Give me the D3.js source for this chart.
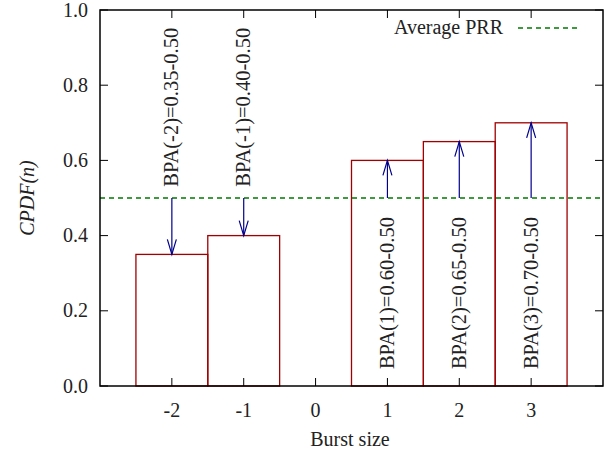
<!DOCTYPE html>
<html>
<head>
<meta charset="utf-8">
<script src="https://cdn.jsdelivr.net/npm/d3@7"></script>
<style>
    body { margin: 0; background: #fff; }
    svg { display: block; }
</style>
</head>
<body>
<svg id="chart" width="613" height="454"></svg>
<script>
// burst sizes and their CPDF values (bars only where there is data)
var burst_sizes = [-2, -1, 1, 2, 3];
var cpdf_values = [0.35, 0.40, 0.60, 0.65, 0.70];
var bpa_labels = ['BPA(-2)=0.35-0.50', 'BPA(-1)=0.40-0.50', 'BPA(1)=0.60-0.50',
                  'BPA(2)=0.65-0.50', 'BPA(3)=0.70-0.50'];
var average_prr = 0.5;
var x_ticks = [-2, -1, 0, 1, 2, 3];
var y_ticks = [0, 0.2, 0.4, 0.6, 0.8, 1.0];

var plot_left = 100, plot_right = 603, plot_top = 10, plot_bottom = 386;
var font = 'Liberation Serif';
var fs = 20;
var svg = d3.select('#chart');

var x = d3.scaleLinear().domain([-3, 4]).range([plot_left, plot_right]);
var y = d3.scaleLinear().domain([0, 1]).range([plot_bottom, plot_top]);

var dark_red = '#a00000';
var dark_blue = '#00008b';
var green = '#007800';

function label(sel) {
    return sel.attr('font-family', font).attr('font-size', fs).attr('fill', '#222');
}

// bars
svg.selectAll('rect.bar')
    .data(burst_sizes)
    .enter()
    .append('rect')
    .attr('class', 'bar')
    .attr('x', function(d) { return x(d - 0.5); })
    .attr('width', function(d) { return x(d + 0.5) - x(d - 0.5); })
    .attr('y', function(d, i) { return y(cpdf_values[i]); })
    .attr('height', function(d, i) { return y(0) - y(cpdf_values[i]); })
    .attr('fill', 'none')
    .attr('stroke', dark_red)
    .attr('stroke-width', 1.3);

// average line
svg.append('line')
    .attr('x1', plot_left).attr('x2', plot_right)
    .attr('y1', y(average_prr)).attr('y2', y(average_prr))
    .attr('stroke', green)
    .attr('stroke-width', 1.3)
    .attr('stroke-dasharray', '5,4');

// arrows from the average to each bar top
svg.selectAll('line.arrow')
    .data(burst_sizes)
    .enter()
    .append('line')
    .attr('class', 'arrow')
    .attr('x1', function(d) { return x(d); })
    .attr('x2', function(d) { return x(d); })
    .attr('y1', y(average_prr))
    .attr('y2', function(d, i) { return y(cpdf_values[i]); })
    .attr('stroke', dark_blue)
    .attr('stroke-width', 1.2);

// open arrow heads
svg.selectAll('path.head')
    .data(burst_sizes)
    .enter()
    .append('path')
    .attr('class', 'head')
    .attr('d', function(d, i) {
        var tx = x(d), ty = y(cpdf_values[i]);
        var dir = cpdf_values[i] < average_prr ? -1 : 1;
        return 'M' + (tx - 4.5) + ',' + (ty + dir * 15) + 'L' + tx + ',' + ty +
               'L' + (tx + 4.5) + ',' + (ty + dir * 15);
    })
    .attr('fill', 'none')
    .attr('stroke', dark_blue)
    .attr('stroke-width', 1.2);

// rotated BPA labels
label(svg.selectAll('text.bpa')
    .data(burst_sizes)
    .enter()
    .append('text')
    .attr('class', 'bpa')
    .attr('transform', function(d, i) {
        var ly = cpdf_values[i] < average_prr ? y(average_prr + 0.03) : y(0.045);
        return 'translate(' + (x(d) + 6.5) + ',' + ly + ') rotate(-90)';
    }))
    .attr('font-size', 20.5)
    .text(function(d, i) { return bpa_labels[i]; });

// axes with inward ticks, mirrored
var tick_len = 8;
var xa = svg.append('g');
x_ticks.forEach(function(t) {
    xa.append('line').attr('x1', x(t)).attr('x2', x(t))
        .attr('y1', plot_bottom).attr('y2', plot_bottom - tick_len).attr('stroke', '#000');
    xa.append('line').attr('x1', x(t)).attr('x2', x(t))
        .attr('y1', plot_top).attr('y2', plot_top + tick_len).attr('stroke', '#000');
    label(xa.append('text')).attr('x', x(t)).attr('y', 417)
        .attr('text-anchor', 'middle')
        .text(t);
});
var ya = svg.append('g');
y_ticks.forEach(function(t) {
    ya.append('line').attr('x1', plot_left).attr('x2', plot_left + tick_len)
        .attr('y1', y(t)).attr('y2', y(t)).attr('stroke', '#000');
    ya.append('line').attr('x1', plot_right).attr('x2', plot_right - tick_len)
        .attr('y1', y(t)).attr('y2', y(t)).attr('stroke', '#000');
    label(ya.append('text')).attr('x', 88).attr('y', y(t) + 6.5)
        .attr('text-anchor', 'end')
        .text(d3.format('.1f')(t));
});

svg.append('rect')
    .attr('x', plot_left).attr('y', plot_top)
    .attr('width', plot_right - plot_left).attr('height', plot_bottom - plot_top)
    .attr('fill', 'none').attr('stroke', '#000').attr('stroke-width', 1.5);

// axis titles
label(svg.append('text'))
    .attr('x', 350).attr('y', 446)
    .attr('text-anchor', 'middle')
    .text('Burst size');
label(svg.append('text'))
    .attr('transform', 'translate(34,' + y(average_prr) + ') rotate(-90)')
    .attr('text-anchor', 'middle')
    .attr('font-style', 'italic')
    .text('CPDF(n)');

// key
label(svg.append('text'))
    .attr('x', 503).attr('y', 34)
    .attr('text-anchor', 'end')
    .text('Average PRR');
svg.append('line')
    .attr('x1', 518).attr('x2', 580)
    .attr('y1', 28).attr('y2', 28)
    .attr('stroke', green).attr('stroke-width', 1.3)
    .attr('stroke-dasharray', '5,4');
</script>
</body>
</html>
